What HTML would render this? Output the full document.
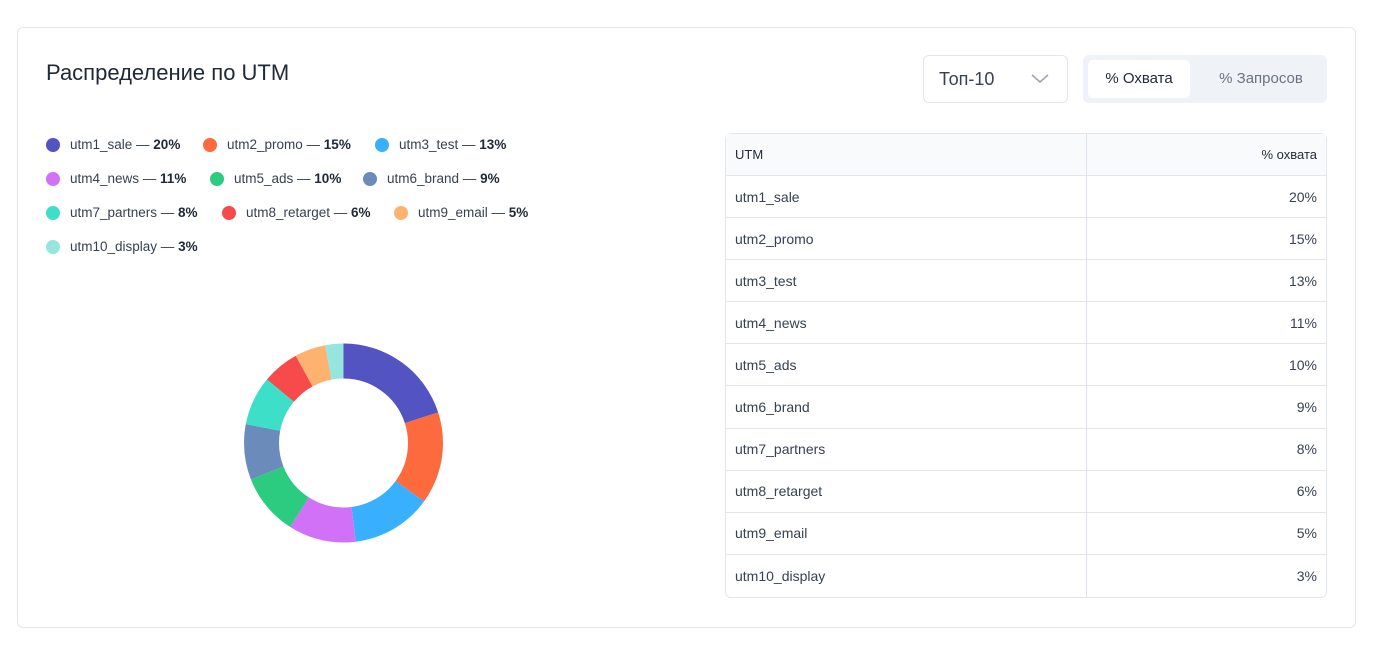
<!DOCTYPE html>
<html><head><meta charset="utf-8"><style>
*{box-sizing:border-box;margin:0;padding:0}
body{width:1397px;height:650px;background:#fff;font-family:"Liberation Sans",sans-serif;position:relative;overflow:hidden;color:#1f2937}
.card{position:absolute;left:17px;top:27px;width:1339px;height:601px;border:1px solid #e3e6ec;border-radius:6px}
h1{position:absolute;left:46px;top:60px;font-size:22px;font-weight:500;color:#1f2937}
.sel{position:absolute;left:923px;top:55px;width:145px;height:48px;border:1px solid #e3e6ec;border-radius:6px;font-size:18px;color:#374151;padding:13px 0 0 15px}
.sel svg{position:absolute;right:18px;top:18px}
.tg{position:absolute;left:1083px;top:55px;width:244px;height:48px;background:#eff2f7;border-radius:6px}
.tg .a{position:absolute;left:5px;top:5px;width:102px;height:38px;background:#fff;border-radius:5px;font-size:15px;color:#1f2937;text-align:center;line-height:38px}
.tg .b{position:absolute;left:122px;top:5px;width:112px;line-height:38px;font-size:15px;color:#6b7280;text-align:center}
.lg{position:absolute;font-size:13.5px;color:#374151;white-space:nowrap}
.lg i{position:absolute;left:0;top:1px;width:14px;height:14px;border-radius:50%}
.lg span{position:absolute;left:24px;top:0}
.lg b{font-weight:600;color:#1f2937}
table{position:absolute;left:725px;top:133px;width:602px;height:465px;border-collapse:separate;border-spacing:0;border:1px solid #e3e6ec;border-radius:6px;font-size:14px;color:#374151}
td,th{height:42px;border-bottom:1px solid #e3e6ec;padding:0 9px;font-weight:400}
th{background:#f9fafb;font-size:13px;color:#1f2937;text-align:left}
tr:last-child td{border-bottom:none}
td:first-child,th:first-child{border-right:1px solid #dde3ee;width:361px}
td:last-child,th:last-child{text-align:right}
</style></head><body>
<div class="card"></div>
<h1>Распределение по UTM</h1>
<div class="sel">Топ-10<svg width="18" height="10" viewBox="0 0 18 10"><path d="M1 1l8 7 8-7" fill="none" stroke="#9ca3af" stroke-width="1.5"/></svg></div>
<div class="tg"><div class="a">% Охвата</div><div class="b">% Запросов</div></div>

<div class="lg" style="left:46px;top:137px"><i style="background:#5353c1"></i><span>utm1_sale — <b>20%</b></span></div>
<div class="lg" style="left:203px;top:137px"><i style="background:#fd6a3d"></i><span>utm2_promo — <b>15%</b></span></div>
<div class="lg" style="left:375px;top:137px"><i style="background:#38b0fd"></i><span>utm3_test — <b>13%</b></span></div>
<div class="lg" style="left:46px;top:171px"><i style="background:#d171f7"></i><span>utm4_news — <b>11%</b></span></div>
<div class="lg" style="left:210px;top:171px"><i style="background:#2bcc7f"></i><span>utm5_ads — <b>10%</b></span></div>
<div class="lg" style="left:363px;top:171px"><i style="background:#6b8bbb"></i><span>utm6_brand — <b>9%</b></span></div>
<div class="lg" style="left:46px;top:205px"><i style="background:#3ddfc8"></i><span>utm7_partners — <b>8%</b></span></div>
<div class="lg" style="left:222px;top:205px"><i style="background:#f74a4b"></i><span>utm8_retarget — <b>6%</b></span></div>
<div class="lg" style="left:394px;top:205px"><i style="background:#feb26f"></i><span>utm9_email — <b>5%</b></span></div>
<div class="lg" style="left:46px;top:239px"><i style="background:#95e6df"></i><span>utm10_display — <b>3%</b></span></div>

<svg style="position:absolute;left:0;top:0" width="700" height="650">
<g transform="rotate(-90 343.5 443)" fill="none" stroke-width="35">
<circle cx="343.5" cy="443" r="82" stroke="#5353c1" stroke-dasharray="103.04 1000" stroke-dashoffset="0"/>
<circle cx="343.5" cy="443" r="82" stroke="#fd6a3d" stroke-dasharray="77.28 1000" stroke-dashoffset="-103.04"/>
<circle cx="343.5" cy="443" r="82" stroke="#38b0fd" stroke-dasharray="66.98 1000" stroke-dashoffset="-180.33"/>
<circle cx="343.5" cy="443" r="82" stroke="#d171f7" stroke-dasharray="56.67 1000" stroke-dashoffset="-247.31"/>
<circle cx="343.5" cy="443" r="82" stroke="#2bcc7f" stroke-dasharray="51.52 1000" stroke-dashoffset="-303.98"/>
<circle cx="343.5" cy="443" r="82" stroke="#6b8bbb" stroke-dasharray="46.37 1000" stroke-dashoffset="-355.51"/>
<circle cx="343.5" cy="443" r="82" stroke="#3ddfc8" stroke-dasharray="41.22 1000" stroke-dashoffset="-401.88"/>
<circle cx="343.5" cy="443" r="82" stroke="#f74a4b" stroke-dasharray="30.91 1000" stroke-dashoffset="-443.09"/>
<circle cx="343.5" cy="443" r="82" stroke="#feb26f" stroke-dasharray="25.76 1000" stroke-dashoffset="-474.01"/>
<circle cx="343.5" cy="443" r="82" stroke="#95e6df" stroke-dasharray="15.46 1000" stroke-dashoffset="-499.77"/>
</g></svg>

<table>
<tr><th>UTM</th><th>% охвата</th></tr>
<tr><td>utm1_sale</td><td>20%</td></tr>
<tr><td>utm2_promo</td><td>15%</td></tr>
<tr><td>utm3_test</td><td>13%</td></tr>
<tr><td>utm4_news</td><td>11%</td></tr>
<tr><td>utm5_ads</td><td>10%</td></tr>
<tr><td>utm6_brand</td><td>9%</td></tr>
<tr><td>utm7_partners</td><td>8%</td></tr>
<tr><td>utm8_retarget</td><td>6%</td></tr>
<tr><td>utm9_email</td><td>5%</td></tr>
<tr><td>utm10_display</td><td>3%</td></tr>
</table>
</body></html>
